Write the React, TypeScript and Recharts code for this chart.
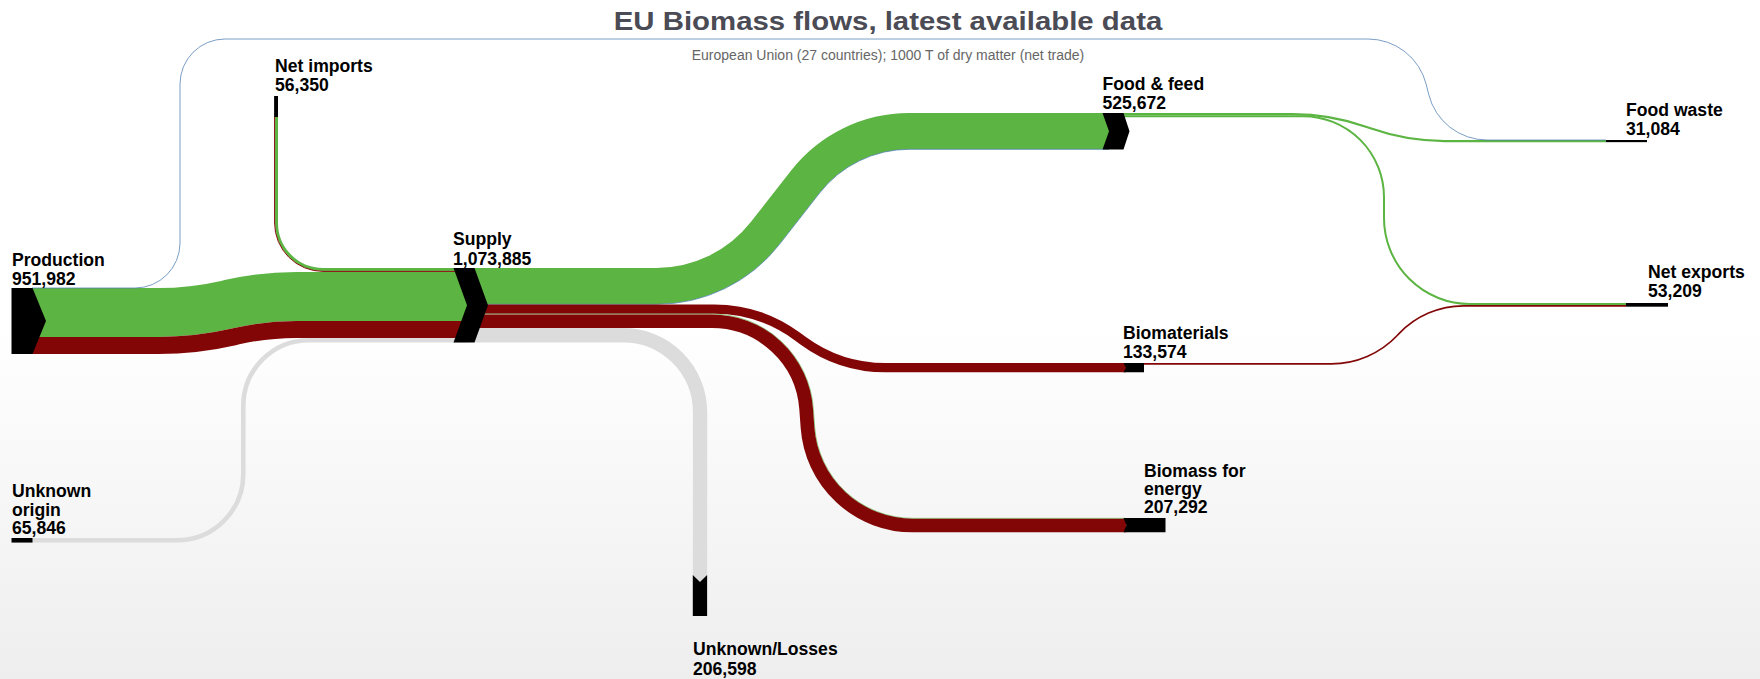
import React from 'react';
import { Sankey } from 'recharts';

// ---------------- data ----------------
const nodeNames: string[] = [
  'Production',
  'Unknown origin',
  'Net imports',
  'Supply',
  'Food & feed',
  'Biomaterials',
  'Biomass for energy',
  'Unknown/Losses',
  'Food waste',
  'Net exports',
];

// one entry per flow (source index -> target index, value in 1000 T dry matter)
const linkSources: number[] = [0, 0, 2, 2, 1, 3, 3, 3, 3, 3, 3, 4, 4, 5, 0];
const linkTargets: number[] = [3, 3, 3, 3, 3, 4, 4, 5, 6, 6, 7, 8, 9, 9, 8];
const linkValues: number[] = [
  706500, 245189, 42000, 14350, 65846, 521672, 4000, 133574, 10000, 197292, 206598, 30791, 29000, 24209, 293,
];
const linkKinds: string[] = [
  'agri', 'wood', 'agri', 'wood', 'unknown', 'agri', 'fish', 'wood', 'agri', 'wood', 'unknown', 'agri', 'agri', 'wood', 'fish',
];

const titleText = 'EU Biomass flows, latest available data';
const subtitleText = 'European Union (27 countries); 1000 T of dry matter (net trade)';

// ---------------- styles / layout ----------------
const kindColors: Record<string, string> = {
  agri: '#5cb443',
  wood: '#830606',
  unknown: '#dcdcdc',
  fish: '#4d7eb0',
};

type Pt = [number, number];

// left-edge routes of each flow bundle (manual sankey arrangement of the original)
const bundleRoutes: Record<string, { pts: Pt[]; r: number[] }> = {
  '0-3': { pts: [[32, 288], [190, 288], [260, 271.9], [467, 271.9]], r: [280, 320] },
  '2-3': { pts: [[278, 117], [278, 268], [467, 268]], r: [45] },
  '1-3': { pts: [[32, 538], [241, 538], [241, 337.9], [467, 337.9]], r: [64, 68] },
  '3-4': { pts: [[474, 268], [715, 268], [836, 113], [1109, 113]], r: [120, 150] },
  '3-5': { pts: [[474, 304.44], [761.5, 304.44], [841.5, 363], [1126, 363]], r: [145, 135] },
  '3-6': { pts: [[474, 313.7], [806.7, 313.7], [821.7, 518], [1126.5, 518]], r: [102, 98] },
  '3-7': { pts: [[474, 328.07], [707.2, 328.07], [707.2, 582]], r: [84] },
  '4-8': { pts: [[1120, 113], [1330, 113], [1407, 140.02], [1606, 140.02]], r: [220, 220] },
  '4-9': { pts: [[1120, 115.13], [1385, 115.13], [1385, 303], [1626, 303]], r: [82, 85] },
  '5-9': { pts: [[1144, 363], [1370, 363], [1425, 305.01], [1626, 305.01]], r: [90, 90] },
  '0-8': { pts: [[32, 288], [180, 288], [180, 39], [1415, 39], [1440, 140], [1606, 140]], r: [45, 45, 60, 60] },
};

type NodeLayout = {
  shape: 'arrowOut' | 'chevron' | 'notched' | 'down' | 'vbar' | 'rect';
  x: number;
  y: number;
  len: number;
  tip?: number;
  notch?: number;
  lx: number;
  ly: number;
  lh: number;
  breakAfter?: number;
};

const nodeLayout: NodeLayout[] = [
  { shape: 'arrowOut', x: 11.5, y: 288, len: 21, tip: 13.5, lx: 12, ly: 265.5, lh: 19.5 },
  { shape: 'rect', x: 11.5, y: 538, len: 21, lx: 12, ly: 497, lh: 18.5, breakAfter: 1 },
  { shape: 'vbar', x: 274.1, y: 96, len: 21, lx: 275, ly: 71.5, lh: 19.5 },
  { shape: 'chevron', x: 453.5, y: 268, len: 21, tip: 13.5, notch: 13.5, lx: 453, ly: 245, lh: 19.5 },
  { shape: 'chevron', x: 1102.5, y: 113, len: 21, tip: 6, notch: 6.5, lx: 1102.5, ly: 89.5, lh: 19.5 },
  { shape: 'notched', x: 1123.5, y: 363, len: 20.5, notch: 2.5, lx: 1123, ly: 338.5, lh: 19.5 },
  { shape: 'notched', x: 1123.5, y: 518, len: 42, notch: 3, lx: 1144, ly: 477, lh: 18, breakAfter: 2 },
  { shape: 'down', x: 692.8, y: 575, len: 41, notch: 7, lx: 693, ly: 655, lh: 20 },
  { shape: 'rect', x: 1606, y: 140, len: 41, lx: 1626, ly: 115.5, lh: 19.5 },
  { shape: 'rect', x: 1626, y: 303, len: 42, lx: 1648, ly: 277.5, lh: 19.5 },
];

const FONT = '"Liberation Sans", Arial, Helvetica, sans-serif';

// ---------------- geometry helper ----------------
function roundedPath(pts: Pt[], radii: number[], d: number): string {
  const n = pts.length;
  const dirs: Pt[] = [];
  for (let i = 0; i < n - 1; i++) {
    const dx = pts[i + 1][0] - pts[i][0];
    const dy = pts[i + 1][1] - pts[i][1];
    const L = Math.hypot(dx, dy) || 1;
    dirs.push([dx / L, dy / L]);
  }
  const norm = (u: Pt): Pt => [u[1], -u[0]];
  const off: Pt[] = pts.map((p, i) => {
    if (i === 0) {
      const nn = norm(dirs[0]);
      return [p[0] + d * nn[0], p[1] + d * nn[1]];
    }
    if (i === n - 1) {
      const nn = norm(dirs[n - 2]);
      return [p[0] + d * nn[0], p[1] + d * nn[1]];
    }
    const n1 = norm(dirs[i - 1]);
    const n2 = norm(dirs[i]);
    const k = d / (1 + n1[0] * n2[0] + n1[1] * n2[1]);
    return [p[0] + k * (n1[0] + n2[0]), p[1] + k * (n1[1] + n2[1])];
  });
  let s = `M${off[0][0]},${off[0][1]}`;
  for (let i = 1; i < n - 1; i++) {
    const u1 = dirs[i - 1];
    const u2 = dirs[i];
    const cross = u1[0] * u2[1] - u1[1] * u2[0];
    const dot = u1[0] * u2[0] + u1[1] * u2[1];
    const theta = Math.acos(Math.max(-1, Math.min(1, dot)));
    if (theta < 1e-6) {
      s += ` L${off[i][0]},${off[i][1]}`;
      continue;
    }
    const r = Math.max(1, radii[i - 1] + d * Math.sign(cross));
    const t = r * Math.tan(theta / 2);
    const a: Pt = [off[i][0] - u1[0] * t, off[i][1] - u1[1] * t];
    const b: Pt = [off[i][0] + u2[0] * t, off[i][1] + u2[1] * t];
    s += ` L${a[0]},${a[1]} A${r},${r} 0 0 ${cross > 0 ? 1 : 0} ${b[0]},${b[1]}`;
  }
  s += ` L${off[n - 1][0]},${off[n - 1][1]}`;
  return s;
}

// ---------------- renderers ----------------
const renderLink = (props: any) => {
  const { index, linkWidth } = props;
  const key = `${linkSources[index]}-${linkTargets[index]}`;
  const route = bundleRoutes[key];
  if (!route) return <g />;
  const ky = linkWidth / linkValues[index];
  let cum = 0;
  for (let j = 0; j < index; j++) {
    if (linkSources[j] === linkSources[index] && linkTargets[j] === linkTargets[index]) {
      cum += linkValues[j] * ky;
    }
  }
  const d = -(cum + linkWidth / 2);
  const kind = linkKinds[index];
  const sw = kind === 'fish' ? Math.max(linkWidth, 0.75) : Math.max(linkWidth, 0.6);
  return (
    <path
      d={roundedPath(route.pts, route.r, d)}
      fill="none"
      stroke={kindColors[kind]}
      strokeWidth={sw}
      strokeLinecap="butt"
    />
  );
};

const renderNode = (props: any) => {
  const { index, height, payload } = props;
  const lay = nodeLayout[index];
  const h = height;
  const { x, y, len } = lay;
  let shape: React.ReactNode = null;
  const tip = lay.tip || 0;
  const notch = lay.notch || 0;
  if (lay.shape === 'arrowOut') {
    shape = (
      <polygon
        points={`${x},${y} ${x + len},${y} ${x + len + tip},${y + h / 2} ${x + len},${y + h} ${x},${y + h}`}
        fill="#000"
      />
    );
  } else if (lay.shape === 'chevron') {
    shape = (
      <polygon
        points={`${x},${y} ${x + len},${y} ${x + len + tip},${y + h / 2} ${x + len},${y + h} ${x},${y + h} ${x + notch},${y + h / 2}`}
        fill="#000"
      />
    );
  } else if (lay.shape === 'notched') {
    shape = (
      <polygon
        points={`${x},${y} ${x + len},${y} ${x + len},${y + h} ${x},${y + h} ${x + notch},${y + h / 2}`}
        fill="#000"
      />
    );
  } else if (lay.shape === 'down') {
    shape = (
      <polygon
        points={`${x},${y} ${x + h / 2},${y + notch} ${x + h},${y} ${x + h},${y + len} ${x},${y + len}`}
        fill="#000"
      />
    );
  } else if (lay.shape === 'vbar') {
    shape = <rect x={x} y={y} width={h} height={len} fill="#000" />;
  } else {
    shape = <rect x={x} y={y} width={len} height={Math.max(h, 1)} fill="#000" />;
  }
  const name: string = nodeNames[index];
  const words = name.split(' ');
  const lines: string[] = lay.breakAfter
    ? [words.slice(0, lay.breakAfter).join(' '), words.slice(lay.breakAfter).join(' ')]
    : [name];
  lines.push(Number(payload.value).toLocaleString('en-US'));
  return (
    <g>
      {shape}
      <text x={lay.lx} y={lay.ly} fontFamily={FONT} fontSize={17.6} fontWeight="bold" fill="#000">
        {lines.map((ln, i) => (
          <tspan key={i} x={lay.lx} y={lay.ly + i * lay.lh}>
            {ln}
          </tspan>
        ))}
      </text>
    </g>
  );
};

// ---------------- chart ----------------
const sankeyData = {
  nodes: nodeNames.map((name) => ({ name })),
  links: linkValues.map((value, i) => ({ source: linkSources[i], target: linkTargets[i], value })),
};

export default function App() {
  return (
    <div
      style={{
        position: 'absolute',
        left: 0,
        top: 0,
        width: 1760,
        height: 679,
        overflow: 'hidden',
        background: 'linear-gradient(to bottom, #ffffff 0%, #ffffff 48%, #eeeeee 100%)',
      }}
    >
      <div style={{ position: 'absolute', left: 0, top: 0 }}>
        <Sankey
          width={1760}
          height={679}
          data={sankeyData}
          node={renderNode}
          link={renderLink}
          nodePadding={0}
          nodeWidth={10}
          iterations={0}
          sort={false}
          margin={{ top: 300, right: 20, bottom: 304.53, left: 20 }}
        />
      </div>
      <svg
        width={1760}
        height={80}
        style={{ position: 'absolute', left: 0, top: 0, pointerEvents: 'none' }}
      >
        <text
          transform="translate(888,30) scale(1.13,1)"
          x={0}
          y={0}
          textAnchor="middle"
          fontFamily={FONT}
          fontSize={26}
          fontWeight="bold"
          fill="#4b4b55"
        >
          {titleText}
        </text>
        <text x={888} y={60} textAnchor="middle" fontFamily={FONT} fontSize={14} fill="#666666">
          {subtitleText}
        </text>
      </svg>
    </div>
  );
}
